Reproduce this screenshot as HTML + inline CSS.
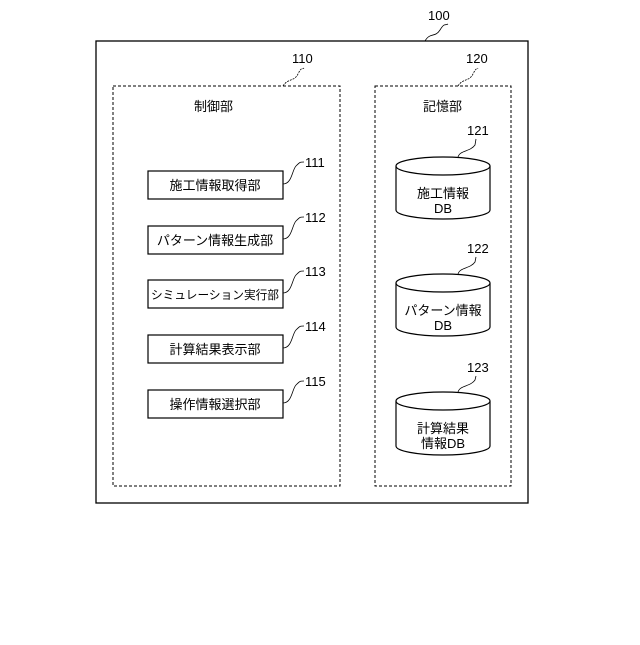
<!DOCTYPE html>
<html><head><meta charset="utf-8"><style>
body{margin:0;background:#fff}
text{font-family:"Liberation Sans","Noto Sans CJK JP",sans-serif;font-size:13px;fill:#000}
</style></head><body>
<svg width="640" height="640" viewBox="0 0 640 640" xmlns="http://www.w3.org/2000/svg">
<rect x="96" y="41" width="432" height="462" fill="none" stroke="#000" stroke-width="1.3"/>
<rect x="113" y="86" width="227" height="400" fill="none" stroke="#000" stroke-dasharray="3,2"/>
<rect x="375" y="86" width="136" height="400" fill="none" stroke="#000" stroke-dasharray="3,2"/>
<text x="428" y="20">100</text>
<path d="M425 41 C430 32,435 38,440 30 S445 26,448 24" fill="none" stroke="#000" stroke-width="0.8"/>
<text x="292" y="63">110</text>
<path d="M283 86 C288 78,294 82,298 74 S302 70,304 68" fill="none" stroke="#000" stroke-width="0.8" stroke-dasharray="2,1"/>
<text x="466" y="63">120</text>
<path d="M458 86 C463 78,469 82,473 74 S477 70,478 68" fill="none" stroke="#000" stroke-width="0.8" stroke-dasharray="2,1"/>
<text x="194" y="111">制御部</text>
<text x="423" y="111">記憶部</text>
<g fill="#fff" stroke="#000" stroke-width="1.2">
<rect x="148" y="171" width="135" height="28"/>
<rect x="148" y="226" width="135" height="28"/>
<rect x="148" y="280" width="135" height="28"/>
<rect x="148" y="335" width="135" height="28"/>
<rect x="148" y="390" width="135" height="28"/>
</g>
<g text-anchor="middle">
<text x="215" y="190">施工情報取得部</text>
<text x="215" y="245">パターン情報生成部</text>
<text x="215" y="299" style="font-size:12px" textLength="128" lengthAdjust="spacingAndGlyphs">シミュレーション実行部</text>
<text x="215" y="354">計算結果表示部</text>
<text x="215" y="409">操作情報選択部</text>
</g>
<g fill="none" stroke="#000" stroke-width="0.8">
<path d="M283 184 C292 184,292 170,296 166 S300 162,304 162"/>
<path d="M283 239 C292 239,292 225,296 221 S300 217,304 217"/>
<path d="M283 293 C292 293,292 279,296 275 S300 271,304 271"/>
<path d="M283 348 C292 348,292 334,296 330 S300 326,304 326"/>
<path d="M283 403 C292 403,292 389,296 385 S300 381,304 381"/>
</g>
<text x="305" y="167">111</text>
<text x="305" y="222">112</text>
<text x="305" y="276">113</text>
<text x="305" y="331">114</text>
<text x="305" y="386">115</text>
<g fill="#fff" stroke="#000" stroke-width="1.2">
<path d="M396 166 V210 A47 9 0 0 0 490 210 V166"/>
<ellipse cx="443" cy="166" rx="47" ry="9"/>
<path d="M396 283 V327 A47 9 0 0 0 490 327 V283"/>
<ellipse cx="443" cy="283" rx="47" ry="9"/>
<path d="M396 401 V446 A47 9 0 0 0 490 446 V401"/>
<ellipse cx="443" cy="401" rx="47" ry="9"/>
</g>
<g text-anchor="middle">
<text x="443" y="198">施工情報</text><text x="443" y="213">DB</text>
<text x="443" y="315">パターン情報</text><text x="443" y="330">DB</text>
<text x="443" y="433">計算結果</text><text x="443" y="448">情報DB</text>
</g>
<text x="467" y="135">121</text>
<text x="467" y="253">122</text>
<text x="467" y="372">123</text>
<g fill="none" stroke="#000" stroke-width="0.8">
<path d="M458 157 C460 150,470 152,475 145 L476 139"/>
<path d="M458 274 C460 267,470 269,475 262 L476 257"/>
<path d="M458 392 C460 385,470 387,475 380 L476 376"/>
</g>
</svg>
</body></html>
